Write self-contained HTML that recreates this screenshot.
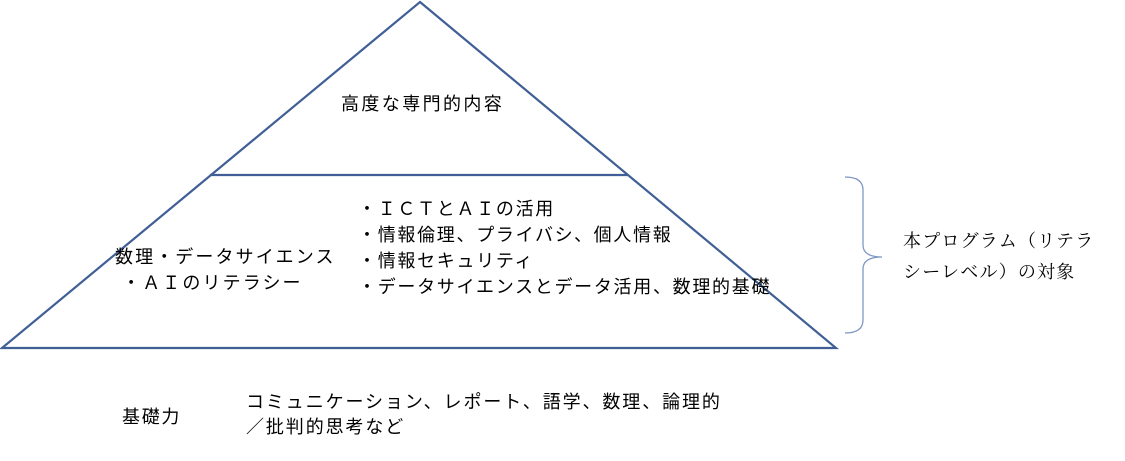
<!DOCTYPE html>
<html><head><meta charset="utf-8"><style>
body{margin:0;width:1125px;height:461px;background:#fff;position:relative;overflow:hidden;font-family:"Liberation Sans","Noto Sans CJK JP",sans-serif;color:#000}
.t{position:absolute;white-space:nowrap;font-size:18px;line-height:26px;letter-spacing:1.7px}
.s{font-family:"Liberation Serif","Noto Serif CJK SC",serif;letter-spacing:1.2px}
</style></head><body>
<svg width="1125" height="461" style="position:absolute;left:0;top:0">
<polygon points="420,2 836,348 2,348" fill="none" stroke="#3f5f96" stroke-width="2.2"/>
<line x1="210" y1="175" x2="628" y2="175" stroke="#3f5f96" stroke-width="2.2"/>
<path d="M845,177 Q863,177 863,190 L863,245 Q863,257 882,257 Q863,257 863,269 L863,320 Q863,333 845,333" fill="none" stroke="#7f97c4" stroke-width="1.3"/>
</svg>
<div class="t" style="left:341px;top:91px;letter-spacing:2.4px">高度な専門的内容</div>
<div class="t" style="left:115px;top:244px;letter-spacing:2.1px">数理・データサイエンス<br>&nbsp;・ＡＩのリテラシー</div>
<div class="t" style="left:358px;top:196px;line-height:26px">・ＩＣＴとＡＩの活用<br>・情報倫理、プライバシ、個人情報<br>・情報セキュリティ<br>・データサイエンスとデータ活用、数理的基礎</div>
<div class="t s" style="left:903px;top:226px;line-height:31px">本プログラム（リテラ<br>シーレベル）の対象</div>
<div class="t" style="left:122px;top:404px">基礎力</div>
<div class="t" style="left:246px;top:390px;line-height:25px;letter-spacing:1.9px">コミュニケーション、レポート、語学、数理、論理的<br>／批判的思考など</div>
</body></html>
